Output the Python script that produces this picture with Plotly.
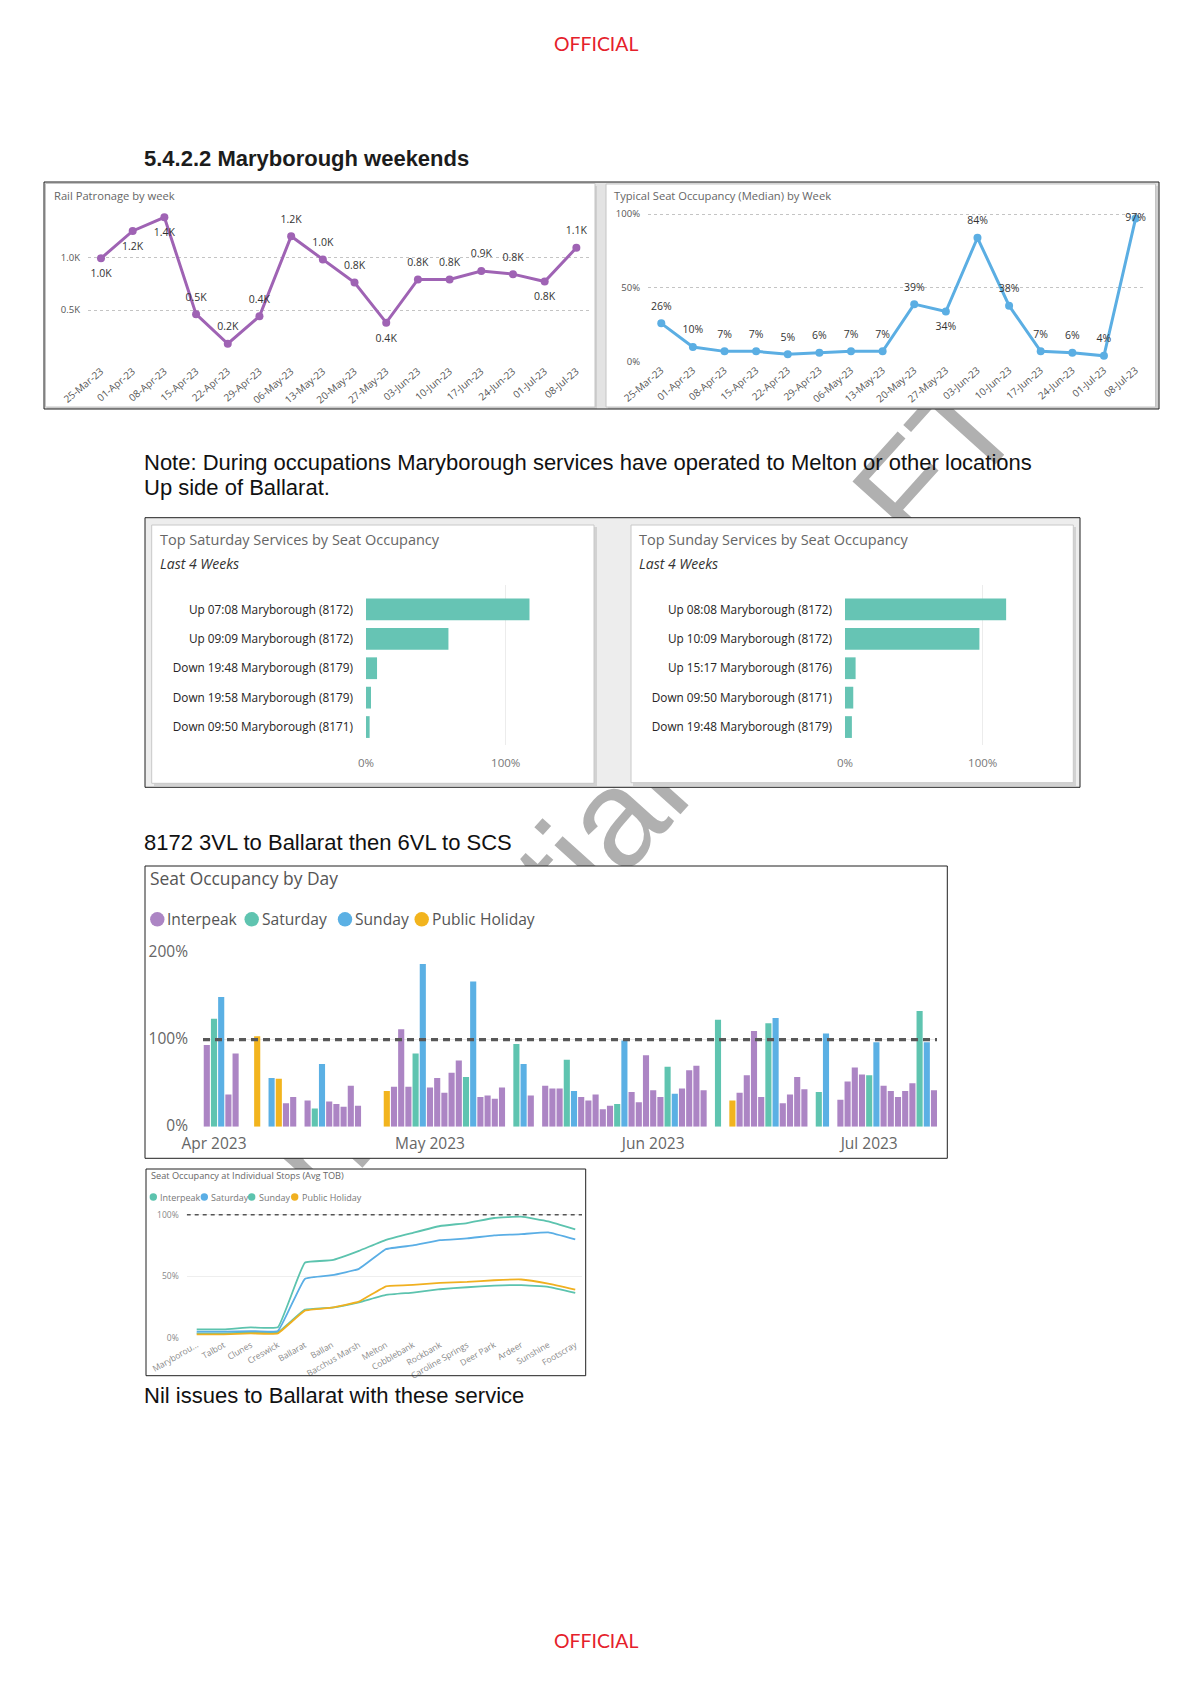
import plotly.graph_objects as go

# ---------------- DATA ----------------
weeks = ["25-Mar-23", "01-Apr-23", "08-Apr-23", "15-Apr-23", "22-Apr-23", "29-Apr-23",
         "06-May-23", "13-May-23", "20-May-23", "27-May-23", "03-Jun-23", "10-Jun-23",
         "17-Jun-23", "24-Jun-23", "01-Jul-23", "08-Jul-23"]
patronage_k = [0.99, 1.25, 1.38, 0.46, 0.18, 0.44, 1.20, 0.98, 0.76, 0.38, 0.79, 0.79, 0.87, 0.84, 0.77, 1.09]
patronage_label_pos = (["bottom center"] * 3 + ["top center"] * 6 + ["bottom center"] +
                       ["top center"] * 4 + ["bottom center", "top center"])
median_occupancy = [0.26, 0.10, 0.07, 0.07, 0.05, 0.06, 0.07, 0.07, 0.39, 0.34, 0.84, 0.38, 0.07, 0.06, 0.04, 0.97]
median_label_pos = ["top center"] * 9 + ["bottom center"] + ["top center"] * 5 + ["middle center"]

sat_services = ["Up 07:08 Maryborough (8172)", "Up 09:09 Maryborough (8172)", "Down 19:48 Maryborough (8179)",
                "Down 19:58 Maryborough (8179)", "Down 09:50 Maryborough (8171)"]
sat_occupancy = [1.17, 0.59, 0.079, 0.036, 0.026]
sun_services = ["Up 08:08 Maryborough (8172)", "Up 10:09 Maryborough (8172)", "Up 15:17 Maryborough (8176)",
                "Down 09:50 Maryborough (8171)", "Down 19:48 Maryborough (8179)"]
sun_occupancy = [1.17, 0.976, 0.077, 0.06, 0.05]

interpeak_dates = ["2023-03-31", "2023-04-03", "2023-04-04", "2023-04-11", "2023-04-12", "2023-04-14",
                   "2023-04-17", "2023-04-18", "2023-04-19", "2023-04-20", "2023-04-21", "2023-04-26",
                   "2023-04-27", "2023-04-28", "2023-05-01", "2023-05-02", "2023-05-03", "2023-05-04",
                   "2023-05-05", "2023-05-08", "2023-05-09", "2023-05-10", "2023-05-11", "2023-05-15",
                   "2023-05-17", "2023-05-18", "2023-05-19", "2023-05-22", "2023-05-23", "2023-05-24",
                   "2023-05-25", "2023-05-26", "2023-05-29", "2023-05-30", "2023-05-31", "2023-06-01",
                   "2023-06-02", "2023-06-05", "2023-06-06", "2023-06-07", "2023-06-08", "2023-06-13",
                   "2023-06-14", "2023-06-15", "2023-06-16", "2023-06-19", "2023-06-20", "2023-06-21",
                   "2023-06-22", "2023-06-27", "2023-06-28", "2023-06-29", "2023-06-30", "2023-07-03",
                   "2023-07-04", "2023-07-05", "2023-07-06", "2023-07-07", "2023-07-10"]
interpeak_occ = [0.94, 0.37, 0.84, 0.27, 0.34, 0.30, 0.29, 0.26, 0.23, 0.47, 0.24, 0.46, 1.12, 0.46,
                 0.45, 0.56, 0.39, 0.62, 0.76, 0.34, 0.36, 0.32, 0.45, 0.36, 0.47, 0.44, 0.44, 0.34,
                 0.30, 0.37, 0.20, 0.24, 0.40, 0.28, 0.82, 0.42, 0.34, 0.44, 0.65, 0.70, 0.42, 0.39,
                 0.59, 1.10, 0.34, 0.27, 0.37, 0.57, 0.43, 0.31, 0.52, 0.68, 0.60, 0.47, 0.41, 0.34,
                 0.41, 0.50, 0.42]
saturday_dates = ["2023-04-01", "2023-04-15", "2023-04-29", "2023-05-06", "2023-05-13", "2023-05-20",
                  "2023-05-27", "2023-06-03", "2023-06-10", "2023-06-17", "2023-06-24", "2023-07-01",
                  "2023-07-08"]
saturday_occ = [1.24, 0.21, 0.84, 0.57, 0.95, 0.77, 0.26, 0.69, 1.23, 1.19, 0.40, 0.59, 1.33]
sunday_dates = ["2023-04-02", "2023-04-09", "2023-04-16", "2023-04-30", "2023-05-07", "2023-05-14",
                "2023-05-21", "2023-05-28", "2023-06-04", "2023-06-18", "2023-06-25", "2023-07-02",
                "2023-07-09"]
sunday_occ = [1.49, 0.56, 0.72, 1.87, 1.67, 0.72, 0.41, 0.99, 0.38, 1.25, 1.07, 0.97, 0.97]
holiday_dates = ["2023-04-07", "2023-04-10", "2023-04-25", "2023-06-12"]
holiday_occ = [1.04, 0.55, 0.41, 0.30]

stops = ["Maryborou...", "Talbot", "Clunes", "Creswick", "Ballarat", "Ballan", "Bacchus Marsh", "Melton",
         "Cobblebank", "Rockbank", "Caroline Springs", "Deer Park", "Ardeer", "Sunshine", "Footscray"]
stop_interpeak = [0.035, 0.035, 0.043, 0.043, 0.228, 0.245, 0.288, 0.348, 0.367, 0.394, 0.41, 0.424, 0.427, 0.413, 0.364]
stop_saturday = [0.049, 0.049, 0.054, 0.054, 0.478, 0.508, 0.56, 0.72, 0.75, 0.793, 0.807, 0.832, 0.842, 0.856, 0.799]
stop_sunday = [0.068, 0.068, 0.084, 0.084, 0.61, 0.63, 0.706, 0.796, 0.853, 0.908, 0.932, 0.973, 0.984, 0.946, 0.88]
stop_holiday = [0.027, 0.027, 0.035, 0.035, 0.22, 0.245, 0.293, 0.418, 0.429, 0.446, 0.454, 0.467, 0.473, 0.44, 0.391]

day_legend = ["Interpeak", "Saturday", "Sunday", "Public Holiday"]
stop_legend = ["Interpeak", "Saturday", "Sunday", "Public Holiday"]

# ---------------- STYLE ----------------
SEG = "Segoe UI, Open Sans, sans-serif"
ARIAL = "Liberation Sans, Arial, sans-serif"
PURPLE_LINE = "#9F63B4"
BLUE_LINE = "#5BAEE3"
TEAL = "#66C4B4"
C_INTER = "#AC85C4"
C_SAT = "#5FC4B0"
C_SUN = "#5BB0E4"
C_HOL = "#F2B41E"
S_GREEN = "#5CC3AE"
S_BLUE = "#5AAEE5"
S_ORANGE = "#F0B020"

W, H, OFF = 1174, 1666, 8


def fx(px):
    return (px - OFF) / W


def fy(py):
    return 1 - (py - OFF) / H


def xdom(a, b):
    return [fx(a), fx(b)]


def ydom(top, bottom):
    return [fy(bottom), fy(top)]


fig = go.Figure()
lay = {}

# ---- 1: watermark layer (page pixel axes) ----
lay["xaxis"] = dict(domain=[0, 1], range=[OFF, OFF + W], visible=False, anchor="y", fixedrange=True)
lay["yaxis"] = dict(domain=[0, 1], range=[OFF + H, OFF], visible=False, anchor="x", fixedrange=True)
WM_CX, WM_CY = 582, 852
fig.add_trace(go.Bar(
    x=[WM_CX], y=[1000], base=[WM_CY - 500], width=[1000], orientation="v",
    text=["Confidential DRAFT"], textposition="inside", insidetextanchor="middle", textangle=-48,
    constraintext="none", cliponaxis=False,
    textfont=dict(family=ARIAL, size=138, color="#b0b0b0"),
    marker=dict(color="rgba(0,0,0,0)", line=dict(width=0)),
    hoverinfo="skip", showlegend=False, xaxis="x", yaxis="y"))

# ---- 2-5: panel backgrounds (frames) ----
frames = {
    "2": (44, 182, 1159, 409),
    "3": (145, 517.7, 1080, 787.3),
    "4": (145, 866, 947.3, 1158.3),
    "5": (146, 1169, 585.7, 1375.7),
}
for n, (x0, y0, x1, y1) in frames.items():
    lay["xaxis" + n] = dict(domain=xdom(x0, x1), range=[x0, x1], visible=False, anchor="y" + n, fixedrange=True)
    lay["yaxis" + n] = dict(domain=ydom(y0, y1), range=[y1, y0], visible=False, anchor="x" + n, fixedrange=True)
    fig.add_trace(go.Scatter(x=[None], y=[None], mode="markers", xaxis="x" + n, yaxis="y" + n,
                             hoverinfo="skip", showlegend=False))


def srect(n, x0, y0, x1, y1, fill, line=None):
    fig.add_shape(type="rect", xref="x" + n, yref="y" + n, x0=x0, x1=x1, y0=y0, y1=y1,
                  fillcolor=fill, line=dict(color=line or fill, width=1 if line else 0), layer="below")


# top frame fill & panels
srect("2", 44, 182, 1159, 409, "#e3e3e3")
srect("2", 47, 186, 597, 409, "#cfcfcf")
srect("2", 608, 186, 1158, 409, "#cfcfcf")
srect("2", 45.5, 183.5, 595, 407, "#ffffff", "#c4c4c4")
srect("2", 606, 184, 1155.5, 407, "#ffffff", "#c4c4c4")
# sat/sun frame fill & panels
srect("3", 145, 517.7, 1080, 787.3, "#ededed")
srect("3", 154, 527, 597, 786, "#d2d2d2")
srect("3", 633, 527, 1076, 786, "#d2d2d2")
srect("3", 151.7, 525, 594, 783.3, "#ffffff", "#c8c8c8")
srect("3", 631, 525, 1073.3, 782.7, "#ffffff", "#c8c8c8")

NOAM = dict(automargin=False, fixedrange=True)


def line_with_labels(xs, ys, labels, positions, color, ax):
    fig.add_trace(go.Scatter(
        x=xs, y=ys, mode="lines+markers", xaxis="x" + ax, yaxis="y" + ax,
        line=dict(color=color, width=3), marker=dict(size=8, color=color),
        hoverinfo="skip", showlegend=False))
    # data labels, offset from the points like the Power BI labels
    fig.add_trace(go.Scatter(
        x=xs, y=ys, mode="markers+text", xaxis="x" + ax, yaxis="y" + ax,
        marker=dict(size=16, color="rgba(0,0,0,0)"), text=labels, textposition=positions,
        textfont=dict(family=SEG, size=10.5, color="#333333"), cliponaxis=False,
        hoverinfo="skip", showlegend=False))


# ---- 6: Rail patronage by week ----
line_with_labels(weeks, patronage_k, [f"{v:.1f}K" for v in patronage_k], patronage_label_pos, PURPLE_LINE, "6")
lay["xaxis6"] = dict(domain=xdom(88, 590), anchor="y6", type="category", range=[-0.41, 15.43],
                     tickangle=-40, tickfont=dict(family=SEG, size=10, color="#555"),
                     showgrid=False, zeroline=False, showline=False, ticks="", **NOAM)
lay["yaxis6"] = dict(domain=ydom(204.6, 362.7), anchor="x6", range=[0, 1.5], tickvals=[0.5, 1.0],
                     ticktext=["0.5K", "1.0K"], showgrid=True, griddash="dot", gridcolor="#c4c4c4",
                     zeroline=False, showline=False, ticks="", tickfont=dict(family=SEG, size=9.5, color="#555"),
                     ticklabelstandoff=7, **NOAM)

# ---- 7: Typical seat occupancy by week ----
line_with_labels(weeks, median_occupancy, [f"{v:.0%}" for v in median_occupancy], median_label_pos, BLUE_LINE, "7")
lay["xaxis7"] = dict(domain=xdom(648, 1146), anchor="y7", type="category", range=[-0.42, 15.33],
                     tickangle=-40, tickfont=dict(family=SEG, size=10, color="#555"),
                     showgrid=False, zeroline=False, showline=False, ticks="", **NOAM)
lay["yaxis7"] = dict(domain=ydom(211.2, 361.7), anchor="x7", range=[0, 1.02], tickvals=[0, 0.5, 1.0],
                     ticktext=["0%", "50%", "100%"], showgrid=True, griddash="dot", gridcolor="#c4c4c4",
                     zeroline=False, showline=False, ticks="", tickfont=dict(family=SEG, size=9.5, color="#555"),
                     ticklabelstandoff=7, **NOAM)

# ---- 8/9: top services ----
for n, names, vals, xd, xr in (("8", sat_services, sat_occupancy, (366, 545), 1.281),
                                ("9", sun_services, sun_occupancy, (845, 1021), 1.278)):
    fig.add_trace(go.Bar(x=vals, y=names, orientation="h", xaxis="x" + n, yaxis="y" + n,
                         marker=dict(color=TEAL, line=dict(width=0)), width=0.74,
                         hoverinfo="skip", showlegend=False))
    lay["xaxis" + n] = dict(domain=xdom(*xd), anchor="y" + n, range=[0, xr], tickvals=[0, 1],
                            ticktext=["0%", "100%"], showgrid=True, gridcolor="#ececec", zeroline=False,
                            showline=False, ticks="", tickfont=dict(family=SEG, size=11.5, color="#777"),
                            ticklabelstandoff=9, **NOAM)
    lay["yaxis" + n] = dict(domain=ydom(585, 745), anchor="x" + n, type="category",
                            categoryorder="array", categoryarray=names, range=[4.61, -0.83],
                            showgrid=False, zeroline=False, showline=False, ticks="",
                            tickfont=dict(family=SEG, size=11.8, color="#252423"),
                            ticklabelstandoff=12, **NOAM)

# ---- 10: seat occupancy by day ----
DAY_MS = 86400000
for dates, vals, col in ((interpeak_dates, interpeak_occ, C_INTER), (saturday_dates, saturday_occ, C_SAT),
                         (sunday_dates, sunday_occ, C_SUN), (holiday_dates, holiday_occ, C_HOL)):
    fig.add_trace(go.Bar(x=dates, y=vals, xaxis="x10", yaxis="y10", width=0.85 * DAY_MS,
                         marker=dict(color=col, line=dict(width=0)), hoverinfo="skip", showlegend=False))
DAY_RANGE = ["2023-03-30 11:20", "2023-07-10 10:00"]
lay["xaxis10"] = dict(domain=xdom(203, 937), anchor="y10", type="date", range=DAY_RANGE,
                      dtick="M1", tick0="2023-04-01", tickformat="%b %Y", showgrid=False, zeroline=False,
                      showline=False, ticks="", tickfont=dict(family=SEG, size=15.5, color="#666"),
                      ticklabelstandoff=6, **NOAM)
lay["yaxis10"] = dict(domain=ydom(952.7, 1126.7), anchor="x10", range=[0, 2], tickvals=[0, 1, 2],
                      ticktext=["0%", "100%", "200%"], showgrid=True, gridcolor="#e8e8e8", zeroline=False,
                      showline=False, ticks="", tickfont=dict(family=SEG, size=15.5, color="#666"),
                      ticklabelstandoff=14, ticklabelshift=-1, **NOAM)
fig.add_shape(type="line", xref="x10", yref="y10", x0=DAY_RANGE[0], x1=DAY_RANGE[1], y0=1, y1=1,
              line=dict(color="#585858", width=3.3, dash="7px,5px"), layer="above")

# ---- 11: seat occupancy at individual stops ----
for vals, col in ((stop_interpeak, S_GREEN), (stop_saturday, S_BLUE), (stop_sunday, S_GREEN), (stop_holiday, S_ORANGE)):
    fig.add_trace(go.Scatter(x=stops, y=vals, mode="lines", xaxis="x11", yaxis="y11",
                             line=dict(color=col, width=1.8, shape="spline", smoothing=0.3),
                             hoverinfo="skip", showlegend=False))
STOP_RANGE = [-0.37, 14.25]
lay["xaxis11"] = dict(domain=xdom(186.7, 582), anchor="y11", type="category", range=STOP_RANGE,
                      tickangle=-30, showgrid=False, zeroline=False, showline=False, ticks="",
                      tickfont=dict(family=SEG, size=8.5, color="#888"), **NOAM)
lay["yaxis11"] = dict(domain=ydom(1211, 1337.7), anchor="x11", range=[0, 1.03], tickvals=[0, 0.5, 1],
                      ticktext=["0%", "50%", "100%"], showgrid=True, gridcolor="#eeeeee", zeroline=False,
                      showline=False, ticks="", tickfont=dict(family=SEG, size=8.5, color="#888"),
                      ticklabelstandoff=7, **NOAM)
fig.add_shape(type="line", xref="x11", yref="y11", x0=STOP_RANGE[0], x1=STOP_RANGE[1], y0=1, y1=1,
              line=dict(color="#555", width=1.4, dash="4px,4px"), layer="above")


# ---------------- page text & decorations ----------------
def txt(s, x, y, size, color, family=SEG, xanchor="left"):
    fig.add_annotation(text=s, x=fx(x), y=fy(y), xref="paper", yref="paper", xanchor=xanchor,
                       yanchor="middle", showarrow=False, font=dict(family=family, size=size, color=color))


def prect(x0, y0, x1, y1, color, width=1):
    fig.add_shape(type="rect", xref="paper", yref="paper", x0=fx(x0), x1=fx(x1), y0=fy(y1), y1=fy(y0),
                  line=dict(color=color, width=width), fillcolor="rgba(0,0,0,0)", layer="above")


def dot(cx, cy, r, color):
    fig.add_shape(type="circle", xref="paper", yref="paper", x0=fx(cx - r), x1=fx(cx + r),
                  y0=fy(cy + r), y1=fy(cy - r), line=dict(width=0), fillcolor=color, layer="above")


txt("OFFICIAL", 596, 43, 19.4, "#E5202A", family="Lato, Open Sans, sans-serif", xanchor="center")
txt("<b>5.4.2.2 Maryborough weekends</b>", 142, 158, 22, "#1c1c1c", family=ARIAL)
txt("Note: During occupations Maryborough services have operated to Melton or other locations",
    142, 462, 22, "#111", family=ARIAL)
txt("Up side of Ballarat.", 142, 487, 22, "#111", family=ARIAL)
txt("8172 3VL to Ballarat then 6VL to SCS", 142, 842, 22, "#111", family=ARIAL)
txt("Nil issues to Ballarat with these service", 142, 1395, 22, "#111", family=ARIAL)
txt("OFFICIAL", 596, 1640, 19.4, "#E5202A", family="Lato, Open Sans, sans-serif", xanchor="center")

# frame outlines
for (x0, y0, x1, y1) in frames.values():
    prect(x0, y0, x1, y1, "#202020", 1)

# chart titles
txt("Rail Patronage by week", 52, 195.5, 11.2, "#666")
txt("Typical Seat Occupancy (Median) by Week", 612, 195.5, 11.2, "#666")
txt("Top Saturday Services by Seat Occupancy", 157.5, 539, 14.5, "#666")
txt("<i>Last 4 Weeks</i>", 157.5, 563.5, 14, "#333")
txt("Top Sunday Services by Seat Occupancy", 637, 539, 14.5, "#666")
txt("<i>Last 4 Weeks</i>", 637, 563.5, 14, "#333")
txt("Seat Occupancy by Day", 148, 877.5, 17.4, "#555")
txt("Seat Occupancy at Individual Stops (Avg TOB)", 149, 1175, 9.2, "#666")

# legend: seat occupancy by day
day_cols = [C_INTER, C_SAT, C_SUN, C_HOL]
day_dot_x = [157.3, 251.7, 345, 421.7]
for name, col, cx in zip(day_legend, day_cols, day_dot_x):
    dot(cx, 919.3, 7.2, col)
    txt(name, cx + 8, 919.3, 15.6, "#555")

# legend: individual stops
stop_cols = [S_GREEN, S_BLUE, S_GREEN, S_ORANGE]
stop_dot_x = [153.3, 204.3, 251.7, 294.7]
for name, col, cx in zip(stop_legend, stop_cols, stop_dot_x):
    dot(cx, 1197, 3.7, col)
    txt(name, cx + 5, 1197, 9, "#777")

fig.update_layout(
    template="none",
    width=W, height=H, margin=dict(l=0, r=0, t=0, b=0, pad=0, autoexpand=False),
    paper_bgcolor="#ffffff", plot_bgcolor="#ffffff", showlegend=False, barmode="overlay",
    hovermode=False, font=dict(family=SEG), **lay)

fig.write_html("out.html")
